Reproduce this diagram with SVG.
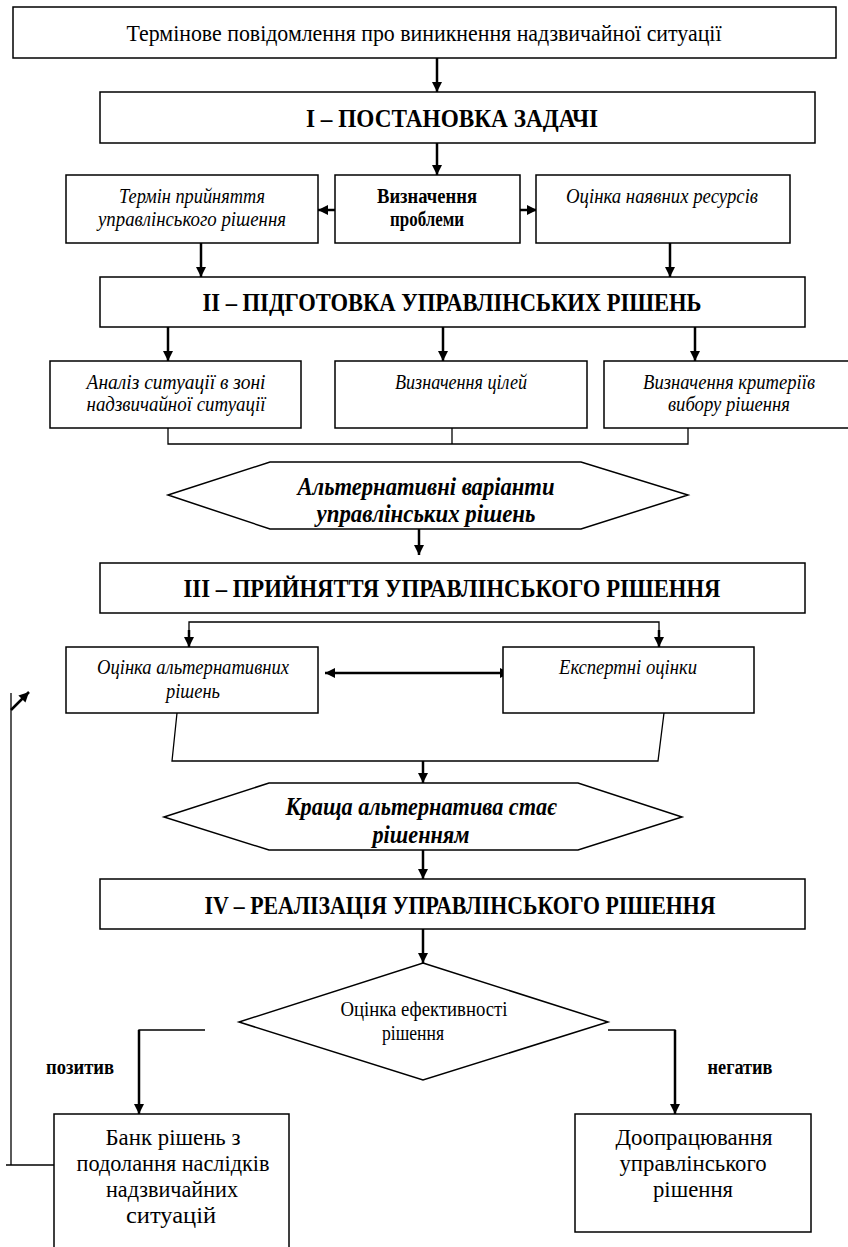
<svg xmlns="http://www.w3.org/2000/svg" width="848" height="1247" viewBox="0 0 848 1247" font-family="Liberation Serif, Times New Roman, DejaVu Serif, serif">
<style>
.box{fill:#fff;stroke:#000;stroke-width:1.5}
text{font-family:'Liberation Serif','Times New Roman','DejaVu Serif',serif;fill:#000;text-anchor:middle}
.title{font-size:26px;font-weight:bold}
.it{font-size:20px;font-style:italic}
.bd{font-size:20px;font-weight:bold}
.hx{font-size:25px;font-weight:bold;font-style:italic}
.rg{font-size:24px}
.bk{font-size:24px}
.sm{font-size:20px}
.lb{font-size:20px;font-weight:bold}
.arr{fill:none;stroke:#000;stroke-width:2.5}
.ln{fill:none;stroke:#000;stroke-width:1.3}
</style>
<defs>
<marker id="ah" viewBox="0 0 10 10" refX="10" refY="5" markerWidth="11" markerHeight="10" markerUnits="userSpaceOnUse" orient="auto-start-reverse">
<path d="M0,0 L10,5 L0,10 z" fill="#000"/>
</marker>
</defs>

<g id="connectors">
<line class="arr" x1="437" y1="58" x2="437" y2="92" marker-end="url(#ah)"/>
<line class="arr" x1="437" y1="143" x2="437" y2="175" marker-end="url(#ah)"/>
<line class="arr" x1="335" y1="210" x2="318" y2="210" marker-end="url(#ah)"/>
<line class="arr" x1="520" y1="210" x2="537" y2="210" marker-end="url(#ah)"/>
<line class="arr" x1="201" y1="243" x2="201" y2="277" marker-end="url(#ah)"/>
<line class="arr" x1="670" y1="243" x2="670" y2="277" marker-end="url(#ah)"/>
<line class="arr" x1="168" y1="327" x2="168" y2="361" marker-end="url(#ah)"/>
<line class="arr" x1="443" y1="327" x2="443" y2="361" marker-end="url(#ah)"/>
<line class="arr" x1="695" y1="327" x2="695" y2="361" marker-end="url(#ah)"/>
<polyline class="ln" points="168,428 168,444 688,444 688,428"/>
<line class="ln" x1="452" y1="428" x2="452" y2="444"/>
<line class="arr" x1="419" y1="524" x2="419" y2="555" marker-end="url(#ah)"/>
<polyline class="ln" points="189,638 189,622 659,622 659,638"/>
<line class="arr" x1="189" y1="630" x2="189" y2="647" marker-end="url(#ah)"/>
<line class="arr" x1="659" y1="630" x2="659" y2="647" marker-end="url(#ah)"/>
<line class="arr" x1="325" y1="673" x2="510" y2="673" marker-start="url(#ah)" marker-end="url(#ah)"/>
<polyline class="ln" points="177,713 172,761 658,761 664,713"/>
<line class="arr" x1="423" y1="761" x2="423" y2="783" marker-end="url(#ah)"/>
<line class="arr" x1="423" y1="850" x2="423" y2="879" marker-end="url(#ah)"/>
<line class="arr" x1="423" y1="929" x2="423" y2="963" marker-end="url(#ah)"/>
<polyline class="ln" points="205,1030 139,1030 139,1040"/>
<line class="arr" x1="139" y1="1030" x2="139" y2="1114" marker-end="url(#ah)"/>
<polyline class="ln" points="608,1030 675,1030 675,1040"/>
<line class="arr" x1="675" y1="1030" x2="675" y2="1114" marker-end="url(#ah)"/>
<polyline class="ln" points="54,1165 6,1165"/>
<line class="ln" x1="11" y1="1165" x2="11" y2="693"/>
<line class="arr" x1="11" y1="710" x2="29" y2="692" marker-end="url(#ah)"/>
</g>

<g id="n-top">
<rect class="box" x="13" y="7" width="823" height="51"/>
<text class="rg" x="424" y="41" textLength="595" lengthAdjust="spacingAndGlyphs">Термінове повідомлення про виникнення надзвичайної ситуації</text>
</g>
<g id="n-stage1">
<rect class="box" x="100" y="92" width="715" height="51"/>
<text class="title" x="452" y="127" textLength="292" lengthAdjust="spacingAndGlyphs">І – ПОСТАНОВКА ЗАДАЧІ</text>
</g>
<g id="n-term">
<rect class="box" x="66" y="175" width="252" height="68"/>
<text class="it" x="192" y="203" textLength="146" lengthAdjust="spacingAndGlyphs">Термін прийняття</text>
<text class="it" x="192" y="226" textLength="188" lengthAdjust="spacingAndGlyphs">управлінського рішення</text>
</g>
<g id="n-problem">
<rect class="box" x="335" y="175" width="185" height="68"/>
<text class="bd" x="427" y="203" textLength="100" lengthAdjust="spacingAndGlyphs">Визначення</text>
<text class="bd" x="427" y="226" textLength="74" lengthAdjust="spacingAndGlyphs">проблеми</text>
</g>
<g id="n-resources">
<rect class="box" x="536" y="175" width="254" height="68"/>
<text class="it" x="662" y="203" textLength="192" lengthAdjust="spacingAndGlyphs">Оцінка наявних ресурсів</text>
</g>
<g id="n-stage2">
<rect class="box" x="100" y="277" width="705" height="50"/>
<text class="title" x="452" y="311" textLength="499" lengthAdjust="spacingAndGlyphs">ІІ – ПІДГОТОВКА УПРАВЛІНСЬКИХ РІШЕНЬ</text>
</g>
<g id="n-analysis">
<rect class="box" x="50" y="361" width="251" height="67"/>
<text class="it" x="176" y="389" textLength="179" lengthAdjust="spacingAndGlyphs">Аналіз ситуації  в зоні</text>
<text class="it" x="176" y="411" textLength="179" lengthAdjust="spacingAndGlyphs">надзвичайної ситуації</text>
</g>
<g id="n-goals">
<rect class="box" x="335" y="361" width="252" height="67"/>
<text class="it" x="461" y="389" textLength="132" lengthAdjust="spacingAndGlyphs">Визначення цілей</text>
</g>
<g id="n-criteria">
<rect class="box" x="604" y="361" width="246" height="67"/>
<text class="it" x="729" y="389" textLength="172" lengthAdjust="spacingAndGlyphs">Визначення критеріїв</text>
<text class="it" x="729" y="411" textLength="122" lengthAdjust="spacingAndGlyphs">вибору рішення</text>
</g>
<g id="n-alt">
<polygon class="box" points="168,495 270,462 581,462 688,495 581,529 270,529"/>
<text class="hx" x="426" y="495" textLength="257" lengthAdjust="spacingAndGlyphs">Альтернативні варіанти</text>
<text class="hx" x="426" y="522" textLength="219" lengthAdjust="spacingAndGlyphs">управлінських рішень</text>
</g>
<g id="n-stage3">
<rect class="box" x="100" y="563" width="705" height="50"/>
<text class="title" x="452" y="597" textLength="537" lengthAdjust="spacingAndGlyphs">ІІІ – ПРИЙНЯТТЯ УПРАВЛІНСЬКОГО РІШЕННЯ</text>
</g>
<g id="n-evalalt">
<rect class="box" x="66" y="647" width="252" height="66"/>
<text class="it" x="193" y="674" textLength="192" lengthAdjust="spacingAndGlyphs">Оцінка альтернативних</text>
<text class="it" x="193" y="698" textLength="54" lengthAdjust="spacingAndGlyphs">рішень</text>
</g>
<g id="n-expert">
<rect class="box" x="503" y="647" width="251" height="66"/>
<text class="it" x="628" y="674" textLength="138" lengthAdjust="spacingAndGlyphs">Експертні оцінки</text>
</g>
<g id="n-best">
<polygon class="box" points="164,817 269,783 578,783 682,817 578,850 269,850"/>
<text class="hx" x="421" y="815" textLength="271" lengthAdjust="spacingAndGlyphs">Краща альтернатива стає</text>
<text class="hx" x="421" y="843" textLength="97" lengthAdjust="spacingAndGlyphs">рішенням</text>
</g>
<g id="n-stage4">
<rect class="box" x="100" y="879" width="705" height="50"/>
<text class="title" x="460" y="914" textLength="511" lengthAdjust="spacingAndGlyphs">IV – РЕАЛІЗАЦІЯ УПРАВЛІНСЬКОГО РІШЕННЯ</text>
</g>
<g id="n-efficiency">
<polygon class="box" points="423,963 608,1022 423,1080 239,1022"/>
<text class="sm" x="424" y="1016" textLength="167" lengthAdjust="spacingAndGlyphs">Оцінка ефективності</text>
<text class="sm" x="413" y="1040" textLength="62" lengthAdjust="spacingAndGlyphs">рішення</text>
</g>
<g id="n-labels">
<text class="lb" x="80" y="1074" textLength="68" lengthAdjust="spacingAndGlyphs">позитив</text>
<text class="lb" x="740" y="1074" textLength="65" lengthAdjust="spacingAndGlyphs">негатив</text>
</g>
<g id="n-bank">
<rect class="box" x="54" y="1114" width="235" height="140"/>
<text class="bk" x="173" y="1145" textLength="135" lengthAdjust="spacingAndGlyphs">Банк рішень з</text>
<text class="bk" x="173" y="1171" textLength="193" lengthAdjust="spacingAndGlyphs">подолання наслідків</text>
<text class="bk" x="172" y="1197" textLength="132" lengthAdjust="spacingAndGlyphs">надзвичайних</text>
<text class="bk" x="171" y="1223" textLength="90" lengthAdjust="spacingAndGlyphs">ситуацій</text>
</g>
<g id="n-rework">
<rect class="box" x="575" y="1114" width="236" height="118"/>
<text class="bk" x="694" y="1145" textLength="157" lengthAdjust="spacingAndGlyphs">Доопрацювання</text>
<text class="bk" x="693" y="1171" textLength="147" lengthAdjust="spacingAndGlyphs">управлінського</text>
<text class="bk" x="693" y="1197" textLength="80" lengthAdjust="spacingAndGlyphs">рішення</text>
</g>
</svg>
